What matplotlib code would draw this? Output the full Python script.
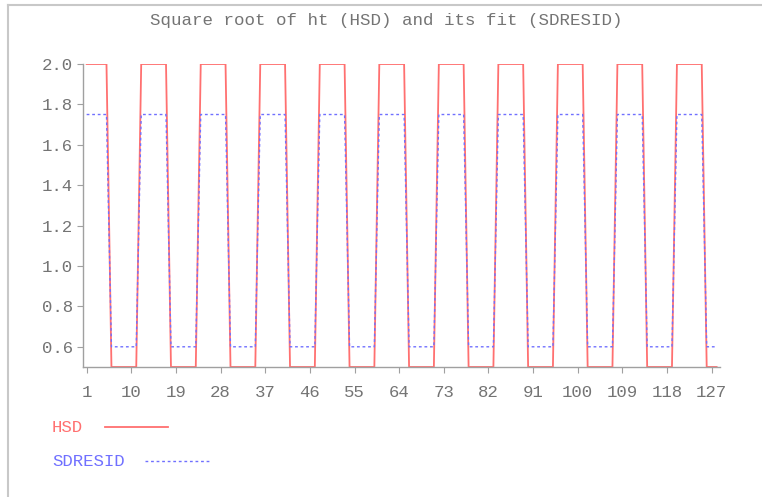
import matplotlib
matplotlib.use("Agg")
import matplotlib.pyplot as plt
from matplotlib.lines import Line2D

# HSD: square root of ht, one value per observation (1..128)
hsd = [
    2.0, 2.0, 2.0, 2.0, 2.0, 0.5, 0.5, 0.5, 0.5, 0.5, 0.5,
    2.0, 2.0, 2.0, 2.0, 2.0, 2.0, 0.5, 0.5, 0.5, 0.5, 0.5, 0.5,
    2.0, 2.0, 2.0, 2.0, 2.0, 2.0, 0.5, 0.5, 0.5, 0.5, 0.5, 0.5,
    2.0, 2.0, 2.0, 2.0, 2.0, 2.0, 0.5, 0.5, 0.5, 0.5, 0.5, 0.5,
    2.0, 2.0, 2.0, 2.0, 2.0, 2.0, 0.5, 0.5, 0.5, 0.5, 0.5, 0.5,
    2.0, 2.0, 2.0, 2.0, 2.0, 2.0, 0.5, 0.5, 0.5, 0.5, 0.5, 0.5,
    2.0, 2.0, 2.0, 2.0, 2.0, 2.0, 0.5, 0.5, 0.5, 0.5, 0.5, 0.5,
    2.0, 2.0, 2.0, 2.0, 2.0, 2.0, 0.5, 0.5, 0.5, 0.5, 0.5, 0.5,
    2.0, 2.0, 2.0, 2.0, 2.0, 2.0, 0.5, 0.5, 0.5, 0.5, 0.5, 0.5,
    2.0, 2.0, 2.0, 2.0, 2.0, 2.0, 0.5, 0.5, 0.5, 0.5, 0.5, 0.5,
    2.0, 2.0, 2.0, 2.0, 2.0, 2.0, 0.5, 0.5, 0.5,
]

# SDRESID: the fit
sdresid = [
    1.75, 1.75, 1.75, 1.75, 1.75, 0.6, 0.6, 0.6, 0.6, 0.6, 0.6,
    1.75, 1.75, 1.75, 1.75, 1.75, 1.75, 0.6, 0.6, 0.6, 0.6, 0.6, 0.6,
    1.75, 1.75, 1.75, 1.75, 1.75, 1.75, 0.6, 0.6, 0.6, 0.6, 0.6, 0.6,
    1.75, 1.75, 1.75, 1.75, 1.75, 1.75, 0.6, 0.6, 0.6, 0.6, 0.6, 0.6,
    1.75, 1.75, 1.75, 1.75, 1.75, 1.75, 0.6, 0.6, 0.6, 0.6, 0.6, 0.6,
    1.75, 1.75, 1.75, 1.75, 1.75, 1.75, 0.6, 0.6, 0.6, 0.6, 0.6, 0.6,
    1.75, 1.75, 1.75, 1.75, 1.75, 1.75, 0.6, 0.6, 0.6, 0.6, 0.6, 0.6,
    1.75, 1.75, 1.75, 1.75, 1.75, 1.75, 0.6, 0.6, 0.6, 0.6, 0.6, 0.6,
    1.75, 1.75, 1.75, 1.75, 1.75, 1.75, 0.6, 0.6, 0.6, 0.6, 0.6, 0.6,
    1.75, 1.75, 1.75, 1.75, 1.75, 1.75, 0.6, 0.6, 0.6, 0.6, 0.6, 0.6,
    1.75, 1.75, 1.75, 1.75, 1.75, 1.75, 0.6, 0.6, 0.6,
]

obs = list(range(1, len(hsd) + 1))
x_ticks = [1, 10, 19, 28, 37, 46, 55, 64, 73, 82, 91, 100, 109, 118, 127]
y_ticks = [0.6, 0.8, 1.0, 1.2, 1.4, 1.6, 1.8, 2.0]

RED = "#ff7070"
BLUE = "#7070ff"
GRAY = "#747474"
FONT = "Liberation Mono"

fig = plt.figure(figsize=(7.62, 4.97), dpi=100)
ax = fig.add_axes([0.1085, 0.2616, 0.8365, 0.6096])

ax.plot(obs, hsd, color=RED, lw=1.3)
ax.plot(obs, sdresid, color=BLUE, lw=1.0, linestyle=(0, (2, 2)))

ax.set_xlim(0.2, 128.7)
ax.set_ylim(0.5, 2.0)
ax.set_xticks(x_ticks)
ax.set_yticks(y_ticks)
ax.set_yticklabels(["%.1f" % v for v in y_ticks])

for side in ["top", "right"]:
    ax.spines[side].set_visible(False)
for side in ["left", "bottom"]:
    ax.spines[side].set_color("#a0a0a0")
    ax.spines[side].set_linewidth(1.0)

ax.tick_params(axis="both", direction="out", length=4, width=0.8,
               color="#a0a0a0", labelcolor=GRAY, labelsize=12.5)
ax.tick_params(axis="x", pad=9)
ax.tick_params(axis="y", pad=3)
for lab in ax.get_xticklabels() + ax.get_yticklabels():
    lab.set_fontfamily(FONT)

fig.text(0.507, 0.958, "Square root of ht (HSD) and its fit (SDRESID)",
         ha="center", va="center", color=GRAY, fontsize=12.6, family=FONT)

# legend below the plot: label then sample line
fig.text(52 / 762, 1 - 428 / 497, "HSD", ha="left", va="center",
         color=RED, fontsize=12.5, family=FONT)
fig.add_artist(Line2D([105 / 762, 168 / 762], [1 - 427 / 497, 1 - 427 / 497],
                      color=RED, lw=1.3))
fig.text(52 / 762, 1 - 461 / 497, "SDRESID", ha="left", va="center",
         color=BLUE, fontsize=12.5, family=FONT)
fig.add_artist(Line2D([145 / 762, 210 / 762], [1 - 461 / 497, 1 - 461 / 497],
                      color=BLUE, lw=1.0, linestyle=(0, (2, 2))))

# page frame
fig.add_artist(Line2D([8 / 762, 1.0], [1 - 5 / 497, 1 - 5 / 497],
                      color="#c8c8c8", lw=1.5))
fig.add_artist(Line2D([8 / 762, 8 / 762], [0.0, 1 - 5 / 497],
                      color="#c8c8c8", lw=1.5))

fig.savefig("out.png", dpi=100)
